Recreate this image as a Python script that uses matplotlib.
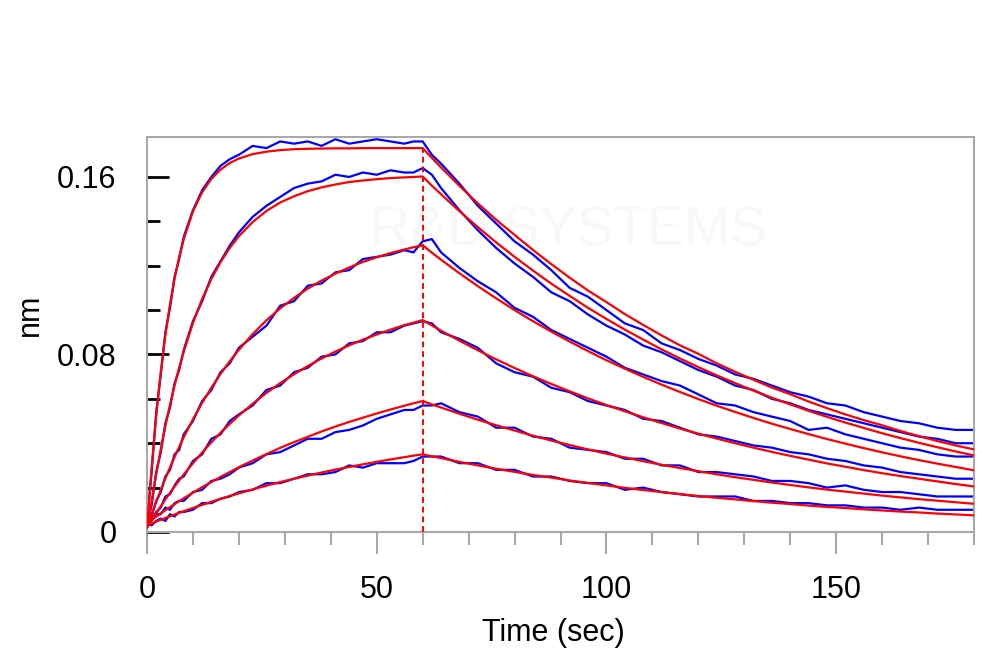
import matplotlib
matplotlib.use('Agg')
import matplotlib.pyplot as plt
from matplotlib.ticker import MultipleLocator, FixedLocator

# time axis (sec), association 0-60 then dissociation 60-180
t = [0, 1, 2, 3, 4, 5, 6, 7, 8, 10, 12, 14, 16, 18, 20, 23, 26, 29, 32, 35, 38, 41, 44, 47, 50, 53, 56, 58, 60,
     62, 64, 68, 72, 76, 80, 84, 88, 92, 96, 100, 104, 108, 112, 116, 120, 124, 128, 132, 136, 140, 144, 148,
     152, 156, 160, 164, 168, 172, 176, 180]
t_switch = 60

# measured traces (nm)
blue_1 = [0.004, 0.027, 0.054, 0.071, 0.090, 0.101, 0.115, 0.123, 0.133, 0.145, 0.154, 0.160, 0.165, 0.168, 0.170,
          0.174, 0.173, 0.176, 0.175, 0.176, 0.174, 0.177, 0.175, 0.176, 0.177, 0.176, 0.175, 0.176, 0.176,
          0.170, 0.166, 0.157, 0.147, 0.139, 0.131, 0.125, 0.118, 0.110, 0.106, 0.100, 0.094, 0.091, 0.085, 0.082,
          0.078, 0.075, 0.071, 0.069, 0.066, 0.063, 0.061, 0.058, 0.057, 0.054, 0.052, 0.050, 0.049, 0.047, 0.046, 0.046]
blue_2 = [0.003, 0.012, 0.027, 0.036, 0.049, 0.056, 0.067, 0.073, 0.082, 0.095, 0.104, 0.115, 0.122, 0.129, 0.135,
          0.142, 0.147, 0.151, 0.155, 0.157, 0.158, 0.161, 0.160, 0.162, 0.161, 0.163, 0.162, 0.162, 0.164,
          0.161, 0.155, 0.145, 0.136, 0.128, 0.121, 0.115, 0.108, 0.104, 0.098, 0.093, 0.089, 0.084, 0.081, 0.077,
          0.073, 0.070, 0.066, 0.064, 0.060, 0.058, 0.055, 0.053, 0.051, 0.049, 0.047, 0.045, 0.043, 0.042, 0.040, 0.040]
blue_3 = [0.003, 0.007, 0.014, 0.018, 0.025, 0.028, 0.035, 0.037, 0.044, 0.050, 0.059, 0.064, 0.072, 0.076, 0.083,
          0.088, 0.093, 0.102, 0.104, 0.111, 0.112, 0.117, 0.118, 0.123, 0.124, 0.125, 0.127, 0.126, 0.131,
          0.132, 0.126, 0.119, 0.113, 0.108, 0.101, 0.097, 0.091, 0.087, 0.083, 0.079, 0.074, 0.071, 0.068, 0.066,
          0.062, 0.058, 0.057, 0.054, 0.052, 0.050, 0.046, 0.047, 0.044, 0.042, 0.040, 0.038, 0.037, 0.035, 0.034, 0.034]
blue_4 = [0.004, 0.005, 0.009, 0.011, 0.016, 0.017, 0.021, 0.024, 0.025, 0.032, 0.035, 0.042, 0.044, 0.050, 0.053,
          0.057, 0.064, 0.066, 0.072, 0.074, 0.079, 0.080, 0.085, 0.086, 0.090, 0.090, 0.093, 0.094, 0.095,
          0.094, 0.090, 0.087, 0.083, 0.076, 0.072, 0.070, 0.065, 0.063, 0.059, 0.057, 0.055, 0.051, 0.050, 0.047,
          0.044, 0.043, 0.041, 0.039, 0.038, 0.036, 0.035, 0.033, 0.032, 0.030, 0.029, 0.027, 0.026, 0.025, 0.024, 0.024]
blue_5 = [0.005, 0.006, 0.008, 0.008, 0.011, 0.010, 0.013, 0.014, 0.014, 0.018, 0.019, 0.023, 0.024, 0.026, 0.029,
          0.031, 0.035, 0.036, 0.039, 0.042, 0.042, 0.045, 0.046, 0.048, 0.051, 0.053, 0.055, 0.055, 0.057,
          0.057, 0.058, 0.054, 0.052, 0.047, 0.047, 0.043, 0.042, 0.038, 0.037, 0.036, 0.033, 0.033, 0.030, 0.030,
          0.027, 0.027, 0.026, 0.025, 0.023, 0.023, 0.022, 0.020, 0.021, 0.019, 0.018, 0.018, 0.017, 0.016, 0.016, 0.016]
blue_6 = [0.004, 0.003, 0.005, 0.006, 0.005, 0.008, 0.007, 0.009, 0.009, 0.010, 0.013, 0.013, 0.015, 0.016, 0.018,
          0.019, 0.022, 0.022, 0.024, 0.026, 0.026, 0.027, 0.030, 0.029, 0.031, 0.031, 0.031, 0.032, 0.034,
          0.034, 0.034, 0.031, 0.031, 0.028, 0.028, 0.025, 0.025, 0.023, 0.022, 0.022, 0.019, 0.020, 0.018, 0.017,
          0.016, 0.016, 0.016, 0.014, 0.014, 0.013, 0.013, 0.012, 0.012, 0.011, 0.011, 0.010, 0.011, 0.010, 0.010, 0.010]

# fitted curves (nm)
fit_1 = [0.002, 0.0285, 0.0523, 0.0722, 0.0888, 0.1026, 0.1142, 0.1239, 0.1320, 0.1445, 0.1531, 0.1591, 0.1633,
         0.1663, 0.1683, 0.1703, 0.1714, 0.1721, 0.1725, 0.1727, 0.1728, 0.1729, 0.1729, 0.1730, 0.1730, 0.1730,
         0.1730, 0.1730, 0.1730,
         0.1686, 0.1643, 0.1560, 0.1481, 0.1407, 0.1339, 0.1271, 0.1207, 0.1146, 0.1088, 0.1036, 0.0982, 0.0933,
         0.0886, 0.0841, 0.0803, 0.0760, 0.0722, 0.0686, 0.0651, 0.0621, 0.0588, 0.0558, 0.0530, 0.0504, 0.0481,
         0.0455, 0.0432, 0.0410, 0.0390, 0.0372]
fit_2 = [0.002, 0.0136, 0.0260, 0.0373, 0.0478, 0.0573, 0.0660, 0.0741, 0.0813, 0.0942, 0.1050, 0.1140, 0.1216,
         0.1280, 0.1333, 0.1397, 0.1447, 0.1485, 0.1513, 0.1536, 0.1553, 0.1566, 0.1577, 0.1584, 0.1590, 0.1595,
         0.1598, 0.1600, 0.1602,
         0.1561, 0.1522, 0.1446, 0.1374, 0.1305, 0.1240, 0.1178, 0.1119, 0.1064, 0.1010, 0.0960, 0.0912, 0.0867,
         0.0823, 0.0782, 0.0743, 0.0706, 0.0671, 0.0637, 0.0605, 0.0575, 0.0546, 0.0519, 0.0493, 0.0469, 0.0445,
         0.0423, 0.0402, 0.0382, 0.0363, 0.0345]
fit_3 = [0.002, 0.0079, 0.0135, 0.0189, 0.0241, 0.0291, 0.0338, 0.0383, 0.0427, 0.0508, 0.0582, 0.0650, 0.0712,
         0.0769, 0.0821, 0.0892, 0.0954, 0.1008, 0.1055, 0.1097, 0.1133, 0.1164, 0.1192, 0.1217, 0.1238, 0.1257,
         0.1273, 0.1283, 0.1292,
         0.1259, 0.1227, 0.1166, 0.1108, 0.1053, 0.1000, 0.0950, 0.0903, 0.0858, 0.0815, 0.0774, 0.0736, 0.0699,
         0.0664, 0.0631, 0.0599, 0.0569, 0.0541, 0.0514, 0.0488, 0.0464, 0.0441, 0.0419, 0.0398, 0.0378, 0.0359,
         0.0341, 0.0324, 0.0308, 0.0293, 0.0278]
fit_4 = [0.002, 0.0053, 0.0085, 0.0116, 0.0147, 0.0176, 0.0205, 0.0232, 0.0259, 0.0310, 0.0358, 0.0404, 0.0447,
         0.0487, 0.0525, 0.0578, 0.0627, 0.0671, 0.0711, 0.0748, 0.0782, 0.0813, 0.0841, 0.0867, 0.0890, 0.0912,
         0.0932, 0.0943, 0.0955,
         0.0931, 0.0907, 0.0862, 0.0819, 0.0778, 0.0739, 0.0702, 0.0667, 0.0634, 0.0602, 0.0572, 0.0544, 0.0517,
         0.0491, 0.0466, 0.0443, 0.0421, 0.0400, 0.0380, 0.0361, 0.0343, 0.0326, 0.0309, 0.0294, 0.0279, 0.0265,
         0.0252, 0.0240, 0.0228, 0.0216, 0.0205]
fit_5 = [0.004, 0.0055, 0.0069, 0.0084, 0.0098, 0.0112, 0.0125, 0.0139, 0.0152, 0.0177, 0.0202, 0.0225, 0.0248,
         0.0270, 0.0292, 0.0322, 0.0351, 0.0379, 0.0405, 0.0429, 0.0453, 0.0475, 0.0496, 0.0515, 0.0534, 0.0552,
         0.0569, 0.0580, 0.0590,
         0.0575, 0.0561, 0.0533, 0.0506, 0.0481, 0.0457, 0.0434, 0.0412, 0.0392, 0.0372, 0.0353, 0.0336, 0.0319,
         0.0303, 0.0288, 0.0274, 0.0260, 0.0247, 0.0235, 0.0223, 0.0212, 0.0201, 0.0191, 0.0182, 0.0173, 0.0164,
         0.0156, 0.0148, 0.0141, 0.0134, 0.0127]
fit_6 = [0.003, 0.0038, 0.0047, 0.0055, 0.0063, 0.0071, 0.0079, 0.0086, 0.0094, 0.0108, 0.0122, 0.0136, 0.0149,
         0.0162, 0.0174, 0.0192, 0.0209, 0.0225, 0.0240, 0.0254, 0.0268, 0.0281, 0.0293, 0.0305, 0.0316, 0.0327,
         0.0337, 0.0344, 0.0350,
         0.0341, 0.0333, 0.0316, 0.0300, 0.0285, 0.0271, 0.0257, 0.0245, 0.0232, 0.0221, 0.0210, 0.0199, 0.0189,
         0.0180, 0.0171, 0.0162, 0.0154, 0.0147, 0.0139, 0.0132, 0.0126, 0.0119, 0.0113, 0.0108, 0.0102, 0.0097,
         0.0092, 0.0088, 0.0083, 0.0079, 0.0075]

y_ticks = [0, 0.08, 0.16]
y_tick_labels = ['0', '0.08', '0.16']
x_ticks = [0, 50, 100, 150]

plt.rcParams['font.family'] = ['Liberation Sans', 'DejaVu Sans']

fig = plt.figure(figsize=(10, 6.7), dpi=100)
ax = fig.add_axes([0.147, 0.206, 0.827, 0.5895])

# faint watermark
ax.text(0.51, 0.76, 'R&D SYSTEMS', transform=ax.transAxes, ha='center', va='center',
        fontsize=40, color='#f8f8f8', zorder=0)

for b in [blue_1, blue_2, blue_3, blue_4, blue_5, blue_6]:
    ax.plot(t, b, color='#0000ff', lw=1.6, zorder=2)
for f in [fit_1, fit_2, fit_3, fit_4, fit_5, fit_6]:
    ax.plot(t, f, color='#ff0000', lw=1.6, zorder=3)

ax.plot([t_switch, t_switch], [0, fit_1[t.index(t_switch)]], color='#ff0000', lw=1.4, ls=(0, (3, 2)), zorder=3)

ax.set_xlim(0, 180)
ax.set_ylim(0, 0.178)

for s in ax.spines.values():
    s.set_color('#a8a8a8')
    s.set_linewidth(1.5)

ax.xaxis.set_major_locator(FixedLocator(x_ticks))
ax.xaxis.set_minor_locator(MultipleLocator(10))
ax.yaxis.set_major_locator(FixedLocator(y_ticks))
ax.yaxis.set_minor_locator(MultipleLocator(0.02))
ax.set_yticklabels(y_tick_labels)

ax.tick_params(axis='x', which='major', direction='out', length=16, width=1.5, color='#a8a8a8',
               labelsize=22, pad=15)
ax.tick_params(axis='x', which='minor', direction='out', length=9.5, width=1.5, color='#a8a8a8')
ax.tick_params(axis='y', which='major', direction='in', length=16, width=2, color='black',
               labelsize=22, pad=22)
ax.tick_params(axis='y', which='minor', direction='in', length=9.5, width=2, color='black')

fig.text(0.553, 1 - 633 / 670, 'Time (sec)', ha='center', va='center', fontsize=22)
fig.text(0.030, 1 - 315 / 670, 'nm', ha='center', va='center', rotation=90, fontsize=22)

fig.savefig('out.png', dpi=100)
